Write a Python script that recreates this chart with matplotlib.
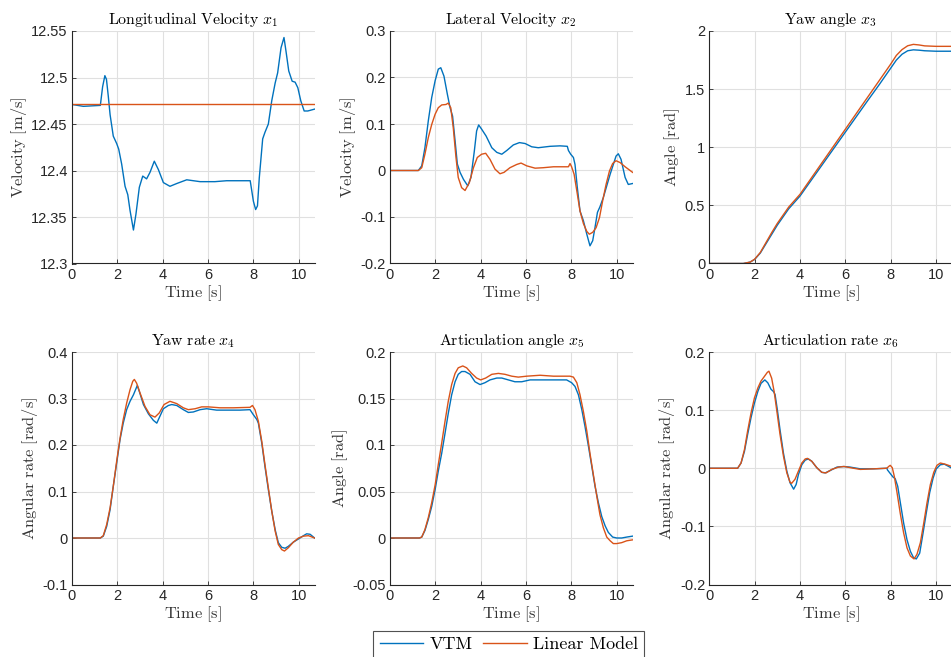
import matplotlib
matplotlib.use("Agg")
import matplotlib.pyplot as plt
from matplotlib.ticker import FuncFormatter, FixedLocator

plt.rcParams["mathtext.fontset"] = "cm"
plt.rcParams["axes.unicode_minus"] = False
plt.rcParams["font.family"] = ["Liberation Sans", "DejaVu Sans"]

# ---------------- data ----------------
# x1: longitudinal velocity [m/s]
t_vx_vtm = [0, 0.5, 1.25, 1.35, 1.45, 1.52, 1.6, 1.68, 1.82, 1.97, 2.06, 2.19, 2.34, 2.46,
            2.56, 2.71, 2.82, 2.97, 3.12, 3.29, 3.44, 3.63, 3.81, 4.03, 4.32, 4.62, 5.06,
            5.65, 6.3, 6.82, 7.4, 7.86, 8.0, 8.1, 8.18, 8.26, 8.41, 8.51, 8.66, 8.81, 8.96,
            9.07, 9.22, 9.35, 9.44, 9.56, 9.71, 9.84, 9.96, 10.09, 10.24, 10.4, 10.7]
vx_vtm = [12.471, 12.469, 12.470, 12.490, 12.502, 12.498, 12.480, 12.460, 12.437, 12.429,
          12.423, 12.407, 12.383, 12.374, 12.357, 12.336, 12.353, 12.382, 12.394, 12.391,
          12.398, 12.410, 12.401, 12.387, 12.383, 12.386, 12.390, 12.388, 12.388, 12.389,
          12.389, 12.389, 12.367, 12.358, 12.362, 12.392, 12.434, 12.441, 12.450, 12.475,
          12.494, 12.505, 12.532, 12.543, 12.528, 12.507, 12.496, 12.495, 12.489, 12.475,
          12.464, 12.464, 12.466]
t_vx_lin = [0, 10.7]
vx_lin = [12.472, 12.472]

# x2: lateral velocity [m/s]
t_vy_vtm = [0, 1.25, 1.40, 1.54, 1.69, 1.84, 1.99, 2.13, 2.24, 2.38, 2.53, 2.65, 2.76, 2.87,
            2.97, 3.09, 3.24, 3.43, 3.57, 3.72, 3.82, 3.91, 4.04, 4.24, 4.49, 4.71, 4.93,
            5.15, 5.44, 5.71, 5.96, 6.25, 6.54, 7.06, 7.5, 7.82, 7.87, 7.97, 8.09, 8.16,
            8.26, 8.38, 8.53, 8.68, 8.82, 8.94, 9.04, 9.15, 9.26, 9.41, 9.56, 9.71, 9.85,
            9.97, 10.07, 10.19, 10.37, 10.51, 10.7]
vy_vtm = [0, 0, 0.010, 0.049, 0.107, 0.157, 0.193, 0.218, 0.221, 0.203, 0.164, 0.135, 0.117,
          0.064, 0.014, -0.004, -0.019, -0.033, -0.015, 0.042, 0.085, 0.098, 0.089, 0.074,
          0.049, 0.039, 0.035, 0.043, 0.055, 0.060, 0.058, 0.051, 0.049, 0.052, 0.053, 0.052,
          0.043, 0.035, 0.028, 0.013, -0.036, -0.087, -0.108, -0.137, -0.162, -0.151,
          -0.123, -0.090, -0.078, -0.058, -0.033, -0.008, 0.013, 0.031, 0.036, 0.024,
          -0.015, -0.030, -0.028]
t_vy_lin = [0, 1.25, 1.40, 1.54, 1.69, 1.84, 1.99, 2.13, 2.28, 2.47, 2.57, 2.68, 2.79, 2.91,
            3.01, 3.16, 3.31, 3.50, 3.68, 3.85, 4.04, 4.22, 4.41, 4.63, 4.85, 5.03, 5.29,
            5.59, 5.78, 6.03, 6.40, 6.76, 7.21, 7.79, 7.87, 7.94, 8.01, 8.12, 8.24, 8.38,
            8.53, 8.68, 8.79, 8.94, 9.09, 9.24, 9.38, 9.53, 9.68, 9.82, 9.97, 10.15, 10.37,
            10.7]
vy_lin = [0, 0, 0.006, 0.035, 0.071, 0.099, 0.121, 0.135, 0.141, 0.142, 0.145, 0.135, 0.092,
          0.028, -0.015, -0.037, -0.043, -0.026, 0.006, 0.028, 0.035, 0.037, 0.024, 0.003,
          -0.007, -0.004, 0.006, 0.013, 0.016, 0.010, 0.005, 0.006, 0.008, 0.008, 0.008,
          0.015, 0.008, -0.008, -0.044, -0.087, -0.114, -0.131, -0.137, -0.133, -0.123,
          -0.101, -0.065, -0.030, -0.001, 0.015, 0.021, 0.017, 0.008, -0.004]

# x3: yaw angle [rad]
t_psi = [0, 1.5, 1.8, 2.0, 2.25, 2.5, 2.75, 3.0, 3.5, 4.0, 5.0, 6.0, 7.0, 7.5, 8.0, 8.25,
         8.5, 8.75, 9.0, 9.25, 9.5, 10.0, 10.7]
psi_vtm = [0, 0, 0.012, 0.035, 0.09, 0.17, 0.25, 0.33, 0.47, 0.58, 0.855, 1.13, 1.405,
           1.54, 1.68, 1.75, 1.80, 1.83, 1.838, 1.835, 1.83, 1.826, 1.826]
psi_lin = [0, 0, 0.012, 0.037, 0.095, 0.18, 0.265, 0.345, 0.485, 0.595, 0.875, 1.155,
           1.435, 1.575, 1.715, 1.79, 1.84, 1.873, 1.885, 1.88, 1.872, 1.868, 1.868]

# x4: yaw rate [rad/s]
t_r_vtm = [0, 1.25, 1.38, 1.53, 1.68, 1.82, 1.97, 2.12, 2.26, 2.41, 2.56, 2.71, 2.88, 2.97,
           3.15, 3.37, 3.59, 3.74, 3.88, 4.03, 4.25, 4.40, 4.62, 4.91, 5.13, 5.35, 5.65,
           5.94, 6.38, 6.82, 7.41, 7.85, 8.0, 8.15, 8.22, 8.37, 8.51, 8.66, 8.81, 8.96,
           9.10, 9.25, 9.40, 9.54, 9.76, 9.99, 10.21, 10.35, 10.5, 10.7]
r_vtm = [0, 0, 0.004, 0.025, 0.061, 0.111, 0.161, 0.212, 0.247, 0.276, 0.294, 0.308, 0.328,
         0.315, 0.287, 0.267, 0.253, 0.247, 0.262, 0.278, 0.285, 0.287, 0.285, 0.276, 0.270,
         0.271, 0.276, 0.278, 0.275, 0.275, 0.275, 0.276, 0.265, 0.255, 0.247, 0.204, 0.154,
         0.104, 0.058, 0.018, -0.010, -0.020, -0.022, -0.018, -0.009, -0.002, 0.005, 0.009,
         0.008, 0.0]
t_r_lin = [0, 1.25, 1.38, 1.53, 1.68, 1.82, 1.97, 2.12, 2.26, 2.41, 2.56, 2.68, 2.75, 2.85,
           3.0, 3.22, 3.44, 3.66, 3.85, 4.06, 4.32, 4.62, 4.91, 5.13, 5.43, 5.72, 6.01, 6.53,
           7.12, 7.85, 7.96, 8.07, 8.22, 8.37, 8.51, 8.66, 8.81, 8.96, 9.10, 9.25, 9.37,
           9.54, 9.76, 9.99, 10.21, 10.43, 10.7]
r_lin = [0, 0, 0.005, 0.029, 0.065, 0.111, 0.165, 0.215, 0.255, 0.290, 0.319, 0.337, 0.341,
         0.333, 0.312, 0.283, 0.265, 0.260, 0.269, 0.287, 0.294, 0.289, 0.280, 0.276, 0.278,
         0.282, 0.282, 0.280, 0.280, 0.281, 0.285, 0.276, 0.251, 0.208, 0.158, 0.108, 0.058,
         0.015, -0.014, -0.025, -0.028, -0.021, -0.009, 0.0, 0.004, 0.005, 0.0]

# x5: articulation angle [rad]
t_th_vtm = [0, 1.3, 1.40, 1.54, 1.69, 1.84, 1.99, 2.13, 2.28, 2.43, 2.57, 2.72, 2.87, 3.01,
            3.16, 3.31, 3.53, 3.75, 3.97, 4.19, 4.41, 4.71, 4.93, 5.22, 5.51, 5.81, 6.18,
            6.91, 7.79, 8.01, 8.16, 8.31, 8.46, 8.60, 8.75, 8.90, 9.04, 9.19, 9.34, 9.49,
            9.63, 9.82, 10.0, 10.22, 10.44, 10.7]
th_vtm = [0, 0, 0.001, 0.008, 0.020, 0.034, 0.052, 0.072, 0.091, 0.113, 0.134, 0.154, 0.168,
          0.176, 0.179, 0.179, 0.176, 0.168, 0.165, 0.167, 0.170, 0.172, 0.172, 0.170, 0.168,
          0.168, 0.170, 0.170, 0.170, 0.167, 0.163, 0.154, 0.138, 0.120, 0.099, 0.077, 0.056,
          0.038, 0.023, 0.013, 0.006, 0.001, 0.0, 0.0, 0.001, 0.002]
t_th_lin = [0, 1.3, 1.40, 1.54, 1.69, 1.84, 1.99, 2.13, 2.28, 2.43, 2.57, 2.72, 2.87, 3.01,
            3.21, 3.38, 3.60, 3.82, 4.00, 4.22, 4.49, 4.78, 5.07, 5.37, 5.66, 6.03, 6.62,
            7.21, 7.94, 8.09, 8.24, 8.38, 8.53, 8.68, 8.82, 8.97, 9.12, 9.26, 9.41, 9.56,
            9.71, 9.85, 10.0, 10.22, 10.44, 10.7]
th_lin = [0, 0, 0.001, 0.009, 0.022, 0.038, 0.057, 0.079, 0.102, 0.126, 0.147, 0.165, 0.177,
          0.183, 0.185, 0.183, 0.177, 0.172, 0.170, 0.172, 0.176, 0.177, 0.176, 0.174, 0.173,
          0.174, 0.175, 0.174, 0.174, 0.173, 0.167, 0.154, 0.136, 0.115, 0.091, 0.068, 0.045,
          0.025, 0.011, 0.001, -0.003, -0.006, -0.006, -0.005, -0.003, -0.002]

# x6: articulation rate [rad/s]
t_dth_vtm = [0, 1.25, 1.40, 1.55, 1.69, 1.84, 1.99, 2.14, 2.28, 2.45, 2.58, 2.72, 2.83, 2.90,
             3.0, 3.12, 3.27, 3.42, 3.56, 3.72, 3.83, 3.93, 4.08, 4.23, 4.37, 4.52, 4.74,
             4.96, 5.11, 5.33, 5.63, 5.92, 6.21, 6.66, 7.25, 7.83, 7.86, 7.98, 8.10, 8.20,
             8.31, 8.45, 8.57, 8.72, 8.87, 9.01, 9.13, 9.28, 9.43, 9.57, 9.72, 9.87, 10.01,
             10.19, 10.37, 10.56, 10.7]
dth_vtm = [0, 0, 0.009, 0.029, 0.058, 0.087, 0.112, 0.132, 0.146, 0.152, 0.147, 0.136, 0.132,
           0.127, 0.101, 0.066, 0.026, -0.005, -0.025, -0.036, -0.028, -0.011, 0.006, 0.014,
           0.016, 0.012, 0.001, -0.007, -0.008, -0.004, 0.002, 0.003, 0.002, -0.001, -0.001,
           0.0, -0.003, -0.009, -0.015, -0.018, -0.031, -0.065, -0.094, -0.123, -0.143,
           -0.154, -0.156, -0.146, -0.111, -0.077, -0.042, -0.017, -0.001, 0.006, 0.007,
           0.003, 0.0]
t_dth_lin = [0, 1.25, 1.40, 1.55, 1.69, 1.84, 1.99, 2.14, 2.28, 2.43, 2.56, 2.63, 2.75, 2.86,
             2.97, 3.12, 3.27, 3.42, 3.56, 3.63, 3.78, 3.93, 4.08, 4.23, 4.33, 4.52, 4.74,
             4.96, 5.15, 5.40, 5.70, 5.95, 6.36, 6.66, 7.25, 7.83, 7.91, 7.98, 8.07, 8.16,
             8.28, 8.42, 8.57, 8.72, 8.87, 9.03, 9.16, 9.31, 9.46, 9.60, 9.75, 9.90, 10.04,
             10.19, 10.40, 10.7]
dth_lin = [0, 0, 0.009, 0.032, 0.064, 0.095, 0.121, 0.138, 0.150, 0.158, 0.165, 0.167, 0.155,
           0.132, 0.101, 0.058, 0.021, -0.008, -0.024, -0.026, -0.019, -0.005, 0.009, 0.016,
           0.017, 0.012, 0.001, -0.007, -0.008, -0.002, 0.002, 0.003, 0.0, -0.002, -0.001,
           0.0, 0.003, 0.005, 0.001, -0.014, -0.042, -0.077, -0.111, -0.137, -0.151, -0.156,
           -0.148, -0.128, -0.094, -0.060, -0.028, -0.007, 0.005, 0.009, 0.007, 0.003]

x_ticks = [0, 2, 4, 6, 8, 10]

panels = [
    dict(title=r"$\mathrm{Longitudinal\ Velocity}\ x_1$", ylabel=r"$\mathrm{Velocity\ [m/s]}$",
         series=[(t_vx_vtm, vx_vtm), (t_vx_lin, vx_lin)],
         ylim=(12.3, 12.55), yticks=[12.3, 12.35, 12.4, 12.45, 12.5, 12.55]),
    dict(title=r"$\mathrm{Lateral\ Velocity}\ x_2$", ylabel=r"$\mathrm{Velocity\ [m/s]}$",
         series=[(t_vy_vtm, vy_vtm), (t_vy_lin, vy_lin)],
         ylim=(-0.2, 0.3), yticks=[-0.2, -0.1, 0, 0.1, 0.2, 0.3]),
    dict(title=r"$\mathrm{Yaw\ angle}\ x_3$", ylabel=r"$\mathrm{Angle\ [rad]}$",
         series=[(t_psi, psi_vtm), (t_psi, psi_lin)],
         ylim=(0, 2), yticks=[0, 0.5, 1, 1.5, 2]),
    dict(title=r"$\mathrm{Yaw\ rate}\ x_4$", ylabel=r"$\mathrm{Angular\ rate\ [rad/s]}$",
         series=[(t_r_vtm, r_vtm), (t_r_lin, r_lin)],
         ylim=(-0.1, 0.4), yticks=[-0.1, 0, 0.1, 0.2, 0.3, 0.4]),
    dict(title=r"$\mathrm{Articulation\ angle}\ x_5$", ylabel=r"$\mathrm{Angle\ [rad]}$",
         series=[(t_th_vtm, th_vtm), (t_th_lin, th_lin)],
         ylim=(-0.05, 0.2), yticks=[-0.05, 0, 0.05, 0.1, 0.15, 0.2]),
    dict(title=r"$\mathrm{Articulation\ rate}\ x_6$", ylabel=r"$\mathrm{Angular\ rate\ [rad/s]}$",
         series=[(t_dth_vtm, dth_vtm), (t_dth_lin, dth_lin)],
         ylim=(-0.2, 0.2), yticks=[-0.2, -0.1, 0, 0.1, 0.2]),
]

series_names = ["VTM", "Linear Model"]
colors = ["#0072BD", "#D95319"]
axis_gray = "#262626"

W, H = 951, 657
fig = plt.figure(figsize=(W / 100, H / 100), dpi=100)

# axes placement in pixels: left edges per column, top edges per row
lefts = [72, 390, 709.3]
tops = [31, 352]
ax_w = 242.6
ax_h = 232.5

fmt = FuncFormatter(lambda v, p: "%g" % round(v, 6))
handles = []
for i, p in enumerate(panels):
    row, col = divmod(i, 3)
    ax = fig.add_axes([lefts[col] / W, 1 - (tops[row] + ax_h) / H, ax_w / W, ax_h / H])
    for (t, y), c, name in zip(p["series"], colors, series_names):
        ln, = ax.plot(t, y, color=c, lw=1.0, label=name)
        if i == 0:
            handles.append(ln)
    ax.set_xlim(0, 10.7)
    ax.set_ylim(*p["ylim"])
    ax.xaxis.set_major_locator(FixedLocator(x_ticks))
    ax.yaxis.set_major_locator(FixedLocator(p["yticks"]))
    ax.yaxis.set_major_formatter(fmt)
    ax.xaxis.set_major_formatter(fmt)
    ax.grid(True, color="#e0e0e0", lw=0.8)
    ax.set_axisbelow(True)
    for s in ("top", "right"):
        ax.spines[s].set_visible(False)
    for s in ("left", "bottom"):
        ax.spines[s].set_color(axis_gray)
        ax.spines[s].set_linewidth(0.8)
    ax.tick_params(direction="in", length=3, width=0.6, colors=axis_gray,
                   labelsize=10.5, pad=3)
    ax.set_title(p["title"], fontsize=11.4, pad=5, color="black")
    ax.set_xlabel(r"$\mathrm{Time\ [s]}$", fontsize=11.8, color="#333333", labelpad=1)
    ax.set_ylabel(p["ylabel"], fontsize=11.8, color="#333333", labelpad=2)

leg = fig.legend(handles, series_names, loc="upper left",
                 bbox_to_anchor=(373.3 / W, 1 - 630.5 / H), ncol=2,
                 prop={"family": "cmr10", "size": 13}, frameon=True, fancybox=False,
                 edgecolor=axis_gray, handlelength=2.4, handletextpad=0.35,
                 columnspacing=0.6, borderpad=0.35, borderaxespad=0)
leg.get_frame().set_linewidth(0.8)

fig.savefig("out.png", dpi=100, facecolor="white")
